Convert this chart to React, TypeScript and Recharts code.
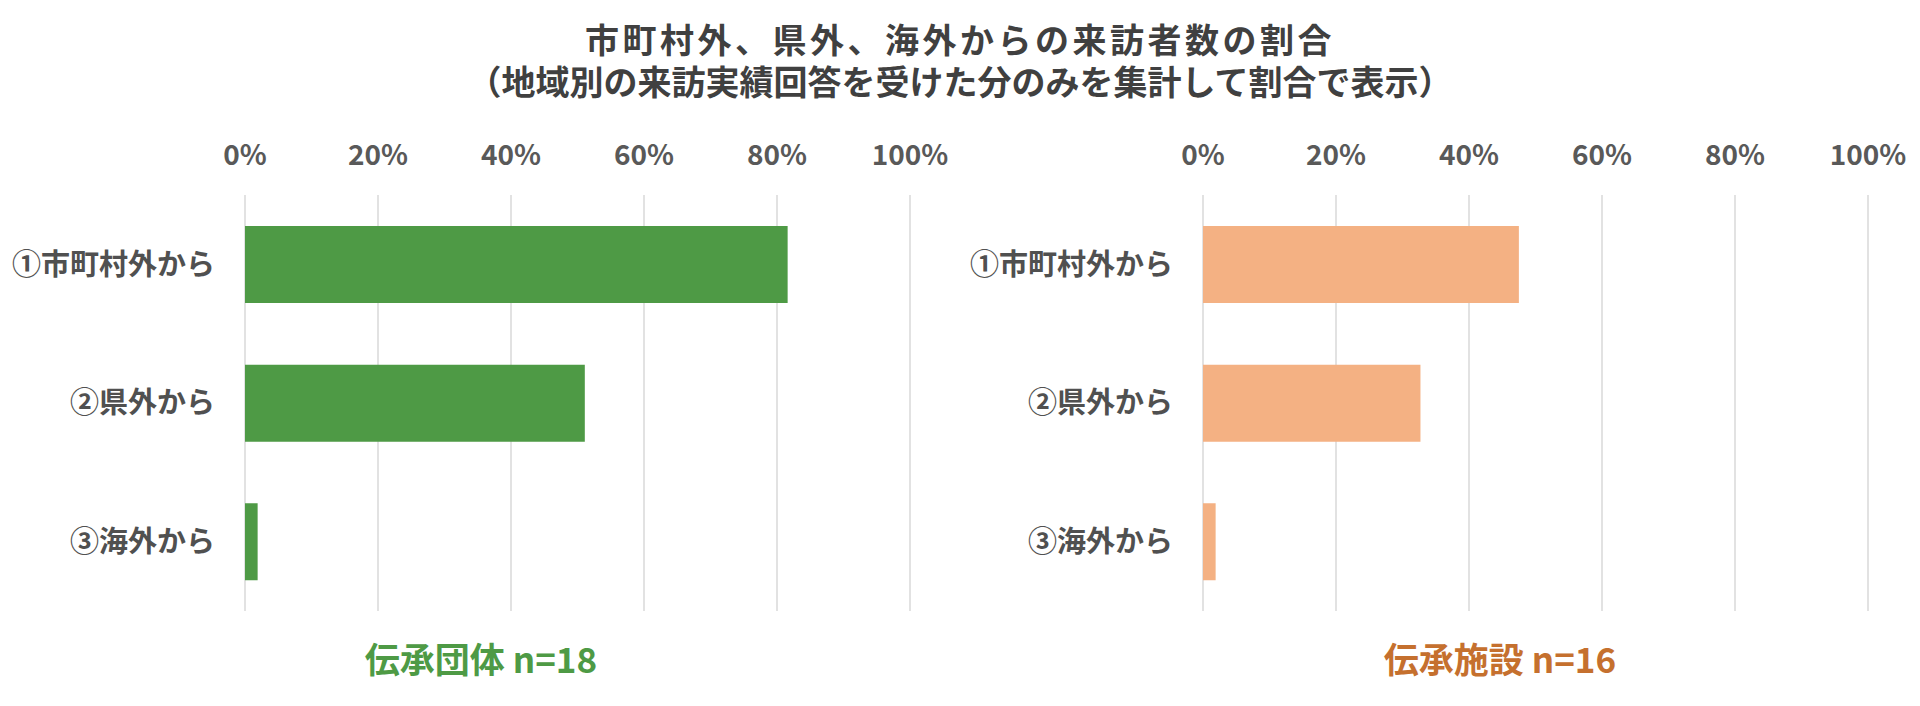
import { Bar, BarChart, CartesianGrid, XAxis, YAxis } from "recharts"

const categories = ["①市町村外から", "②県外から", "③海外から"]
const groupValues = [81.6, 51.1, 1.9]
const facilityValues = [47.5, 32.7, 1.9]
const percentTicks = [0, 20, 40, 60, 80, 100]

const titleLines = [
  "市町村外、県外、海外からの来訪者数の割合",
  "（地域別の来訪実績回答を受けた分のみを集計して割合で表示）",
]

const font = "'Noto Sans CJK JP', 'Noto Sans', sans-serif"

const groupData = categories.map((name, i) => ({ name, value: groupValues[i] }))
const facilityData = categories.map((name, i) => ({ name, value: facilityValues[i] }))

function PanelChart({ data, color, axisWidth, rightGap }: { data: { name: string; value: number }[]; color: string; axisWidth: number; rightGap: number }) {
  return (
    <BarChart
      width={960}
      height={706}
      data={data}
      layout="vertical"
      margin={{ top: 155, right: rightGap, bottom: 95, left: 0 }}
    >
      <CartesianGrid horizontal={false} stroke="#d9d9d9" strokeWidth={1.5} />
      <XAxis
        type="number"
        orientation="top"
        domain={[0, 100]}
        ticks={percentTicks}
        tickFormatter={(v: number) => `${v}%`}
        axisLine={false}
        tickLine={false}
        tickSize={0}
        tickMargin={30}
        height={40}
        interval={0}
        tick={{ fill: "#595959", fontSize: 28, fontWeight: 700, fontFamily: font }}
      />
      <YAxis
        type="category"
        dataKey="name"
        width={axisWidth}
        axisLine={false}
        tickLine={false}
        tickSize={0}
        tickMargin={30}
        tick={{ fill: "#505050", fontSize: 29, fontWeight: 700, fontFamily: font }}
      />
      <Bar dataKey="value" fill={color} barSize={77} isAnimationActive={false} />
    </BarChart>
  )
}

export default function App() {
  return (
    <div style={{ position: "absolute", left: 0, top: 0, width: 1920, height: 706, background: "#fff", fontFamily: font }}>
      <div
        style={{
          position: "absolute",
          left: 0,
          top: 18,
          width: 1920,
          textAlign: "center",
          fontSize: 34,
          lineHeight: "42px",
          fontWeight: 700,
          color: "#404040",
        }}
      >
        <div style={{ letterSpacing: "3.5px" }}>{titleLines[0]}</div>
        <div>{titleLines[1]}</div>
      </div>
      <div style={{ position: "absolute", left: 0, top: 0 }}>
        <PanelChart data={groupData} color="#4e9a45" axisWidth={245} rightGap={50} />
      </div>
      <div style={{ position: "absolute", left: 960, top: 0 }}>
        <PanelChart data={facilityData} color="#f4b183" axisWidth={243} rightGap={52} />
      </div>
      <div
        style={{
          position: "absolute",
          left: 281,
          top: 638,
          width: 400,
          textAlign: "center",
          fontSize: 35,
          lineHeight: "40px",
          fontWeight: 700,
          color: "#4e9a45",
        }}
      >
        伝承団体 n=18
      </div>
      <div
        style={{
          position: "absolute",
          left: 1300,
          top: 638,
          width: 400,
          textAlign: "center",
          fontSize: 35,
          lineHeight: "40px",
          fontWeight: 700,
          color: "#c5702e",
        }}
      >
        伝承施設 n=16
      </div>
    </div>
  )
}
